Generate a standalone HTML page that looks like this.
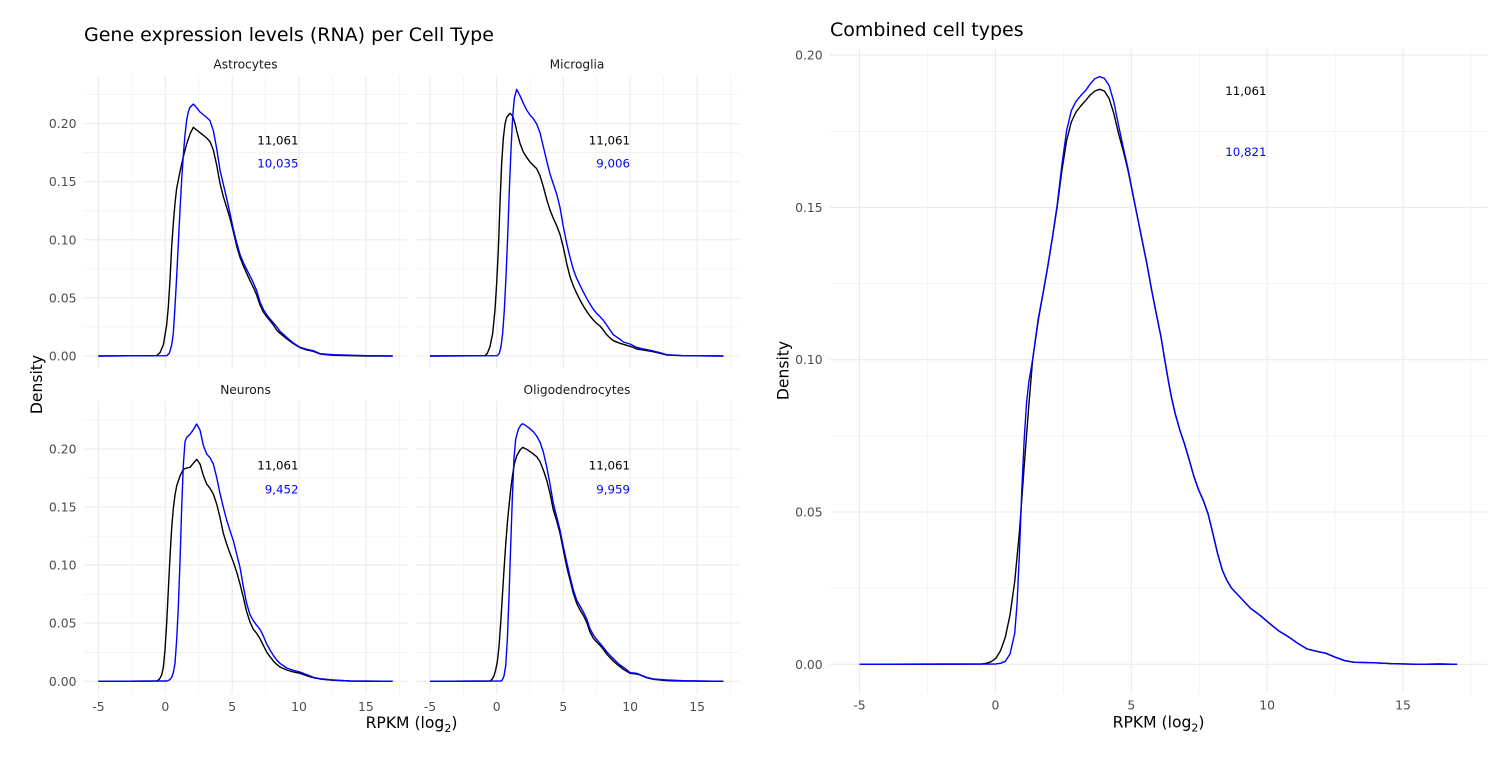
<!DOCTYPE html>
<html><head><meta charset="utf-8">
<style>
html,body{margin:0;padding:0;background:#fff;}
svg{display:block;}
text{font-family:"DejaVu Sans","Liberation Sans",sans-serif;}
.ax{font-size:12.4px;fill:#4d4d4d;}
.st{font-size:12.2px;fill:#1a1a1a;}
.an{font-size:11.8px;}
.gM{stroke:#ebebeb;stroke-width:1.1;}
.gm{stroke:#ebebeb;stroke-width:0.55;}
.cb{fill:none;stroke:#000;stroke-width:1.4;stroke-linejoin:round;}
.cu{fill:none;stroke:#0000ff;stroke-width:1.4;stroke-linejoin:round;}
</style></head>
<body>
<svg width="1500" height="768" viewBox="0 0 1500 768" xmlns="http://www.w3.org/2000/svg">
<rect width="1500" height="768" fill="#fff"/>

<!-- ===== LEFT FACET PLOT ===== -->
<text x="84" y="41" style="font-size:19px" fill="#000">Gene expression levels (RNA) per Cell Type</text>

<g>
<!-- top-left -->
<line class="gm" x1="84" x2="407" y1="327" y2="327"/><line class="gm" x1="84" x2="407" y1="268.9" y2="268.9"/><line class="gm" x1="84" x2="407" y1="210.8" y2="210.8"/><line class="gm" x1="84" x2="407" y1="152.7" y2="152.7"/><line class="gm" x1="84" x2="407" y1="94.6" y2="94.6"/>
<line class="gm" x1="131.9" x2="131.9" y1="76" y2="368"/><line class="gm" x1="198.7" x2="198.7" y1="76" y2="368"/><line class="gm" x1="265.6" x2="265.6" y1="76" y2="368"/><line class="gm" x1="332.4" x2="332.4" y1="76" y2="368"/><line class="gm" x1="399.2" x2="399.2" y1="76" y2="368"/>
<line class="gM" x1="84" x2="407" y1="356" y2="356"/><line class="gM" x1="84" x2="407" y1="297.9" y2="297.9"/><line class="gM" x1="84" x2="407" y1="239.8" y2="239.8"/><line class="gM" x1="84" x2="407" y1="181.7" y2="181.7"/><line class="gM" x1="84" x2="407" y1="123.6" y2="123.6"/>
<line class="gM" x1="98.4" x2="98.4" y1="76" y2="368"/><line class="gM" x1="165.3" x2="165.3" y1="76" y2="368"/><line class="gM" x1="232.2" x2="232.2" y1="76" y2="368"/><line class="gM" x1="299" x2="299" y1="76" y2="368"/><line class="gM" x1="365.9" x2="365.9" y1="76" y2="368"/>
<!-- top-right -->
<line class="gm" x1="415" x2="739" y1="327" y2="327"/><line class="gm" x1="415" x2="739" y1="268.9" y2="268.9"/><line class="gm" x1="415" x2="739" y1="210.8" y2="210.8"/><line class="gm" x1="415" x2="739" y1="152.7" y2="152.7"/><line class="gm" x1="415" x2="739" y1="94.6" y2="94.6"/>
<line class="gm" x1="463.3" x2="463.3" y1="76" y2="368"/><line class="gm" x1="530" x2="530" y1="76" y2="368"/><line class="gm" x1="596.7" x2="596.7" y1="76" y2="368"/><line class="gm" x1="663.5" x2="663.5" y1="76" y2="368"/><line class="gm" x1="730.3" x2="730.3" y1="76" y2="368"/>
<line class="gM" x1="415" x2="739" y1="356" y2="356"/><line class="gM" x1="415" x2="739" y1="297.9" y2="297.9"/><line class="gM" x1="415" x2="739" y1="239.8" y2="239.8"/><line class="gM" x1="415" x2="739" y1="181.7" y2="181.7"/><line class="gM" x1="415" x2="739" y1="123.6" y2="123.6"/>
<line class="gM" x1="430" x2="430" y1="76" y2="368"/><line class="gM" x1="496.7" x2="496.7" y1="76" y2="368"/><line class="gM" x1="563.3" x2="563.3" y1="76" y2="368"/><line class="gM" x1="630.2" x2="630.2" y1="76" y2="368"/><line class="gM" x1="697.1" x2="697.1" y1="76" y2="368"/>
<!-- bottom-left -->
<line class="gm" x1="84" x2="407" y1="652.3" y2="652.3"/><line class="gm" x1="84" x2="407" y1="594.2" y2="594.2"/><line class="gm" x1="84" x2="407" y1="536.1" y2="536.1"/><line class="gm" x1="84" x2="407" y1="478" y2="478"/><line class="gm" x1="84" x2="407" y1="419.9" y2="419.9"/>
<line class="gm" x1="131.9" x2="131.9" y1="401" y2="694"/><line class="gm" x1="198.7" x2="198.7" y1="401" y2="694"/><line class="gm" x1="265.6" x2="265.6" y1="401" y2="694"/><line class="gm" x1="332.4" x2="332.4" y1="401" y2="694"/><line class="gm" x1="399.2" x2="399.2" y1="401" y2="694"/>
<line class="gM" x1="84" x2="407" y1="681.3" y2="681.3"/><line class="gM" x1="84" x2="407" y1="623.2" y2="623.2"/><line class="gM" x1="84" x2="407" y1="565.1" y2="565.1"/><line class="gM" x1="84" x2="407" y1="507" y2="507"/><line class="gM" x1="84" x2="407" y1="448.9" y2="448.9"/>
<line class="gM" x1="98.4" x2="98.4" y1="401" y2="694"/><line class="gM" x1="165.3" x2="165.3" y1="401" y2="694"/><line class="gM" x1="232.2" x2="232.2" y1="401" y2="694"/><line class="gM" x1="299" x2="299" y1="401" y2="694"/><line class="gM" x1="365.9" x2="365.9" y1="401" y2="694"/>
<!-- bottom-right -->
<line class="gm" x1="415" x2="739" y1="652.3" y2="652.3"/><line class="gm" x1="415" x2="739" y1="594.2" y2="594.2"/><line class="gm" x1="415" x2="739" y1="536.1" y2="536.1"/><line class="gm" x1="415" x2="739" y1="478" y2="478"/><line class="gm" x1="415" x2="739" y1="419.9" y2="419.9"/>
<line class="gm" x1="463.3" x2="463.3" y1="401" y2="694"/><line class="gm" x1="530" x2="530" y1="401" y2="694"/><line class="gm" x1="596.7" x2="596.7" y1="401" y2="694"/><line class="gm" x1="663.5" x2="663.5" y1="401" y2="694"/><line class="gm" x1="730.3" x2="730.3" y1="401" y2="694"/>
<line class="gM" x1="415" x2="739" y1="681.3" y2="681.3"/><line class="gM" x1="415" x2="739" y1="623.2" y2="623.2"/><line class="gM" x1="415" x2="739" y1="565.1" y2="565.1"/><line class="gM" x1="415" x2="739" y1="507" y2="507"/><line class="gM" x1="415" x2="739" y1="448.9" y2="448.9"/>
<line class="gM" x1="430" x2="430" y1="401" y2="694"/><line class="gM" x1="496.7" x2="496.7" y1="401" y2="694"/><line class="gM" x1="563.3" x2="563.3" y1="401" y2="694"/><line class="gM" x1="630.2" x2="630.2" y1="401" y2="694"/><line class="gM" x1="697.1" x2="697.1" y1="401" y2="694"/>
</g>

<text class="st" x="245.5" y="68.5" text-anchor="middle">Astrocytes</text>
<text class="st" x="577" y="68.5" text-anchor="middle">Microglia</text>
<text class="st" x="245.5" y="394" text-anchor="middle">Neurons</text>
<text class="st" x="577" y="394" text-anchor="middle">Oligodendrocytes</text>

<g class="ax" text-anchor="end">
<text x="76.5" y="360.5">0.00</text><text x="76.5" y="302.4">0.05</text><text x="76.5" y="244.3">0.10</text><text x="76.5" y="186.2">0.15</text><text x="76.5" y="128.1">0.20</text>
<text x="76.5" y="685.8">0.00</text><text x="76.5" y="627.7">0.05</text><text x="76.5" y="569.6">0.10</text><text x="76.5" y="511.5">0.15</text><text x="76.5" y="453.4">0.20</text>
</g>
<g class="ax" text-anchor="middle">
<text x="98.4" y="711">-5</text><text x="165.3" y="711">0</text><text x="232.2" y="711">5</text><text x="299" y="711">10</text><text x="365.9" y="711">15</text>
<text x="430" y="711">-5</text><text x="496.7" y="711">0</text><text x="563.3" y="711">5</text><text x="630.2" y="711">10</text><text x="697.1" y="711">15</text>
</g>

<text x="411.5" y="728" text-anchor="middle" style="font-size:15.6px" fill="#000">RPKM (log<tspan style="font-size:11px" dy="4">2</tspan><tspan dy="-4">)</tspan></text>
<text transform="translate(42,384.5) rotate(-90)" text-anchor="middle" style="font-size:15.6px" fill="#000">Density</text>

<g transform="scale(0.33333)">
<polyline class="cb" vector-effect="non-scaling-stroke" points="295,1068 470,1067 480,1058 490,1035 500,975 505,920 510,840 515,740 520,670 525,610 530,565 535,540 540,515 550,470 560,432 570,402 580,382 590,390 600,398 610,406 620,414 630,425 640,450 650,495 660,550 670,590 680,622 690,655 700,695 710,738 720,772 730,797 740,820 750,842 760,862 770,885 780,915 790,936 800,950 810,962 820,975 830,990 840,1000 860,1016 880,1031 900,1043 920,1050 940,1054 960,1062 1000,1066 1100,1068 1178,1068"/>
<polyline class="cu" vector-effect="non-scaling-stroke" points="295,1068 500,1067 508,1060 515,1035 520,1000 525,920 530,830 535,730 540,630 545,540 550,465 555,405 560,360 565,335 570,322 580,312 590,323 600,336 615,348 630,362 640,392 650,445 660,510 670,553 680,595 690,640 700,688 710,728 720,763 730,788 740,808 750,828 760,848 770,872 780,906 790,928 800,944 810,957 830,980 840,994 860,1012 880,1029 900,1042 920,1048 940,1052 960,1061 1000,1064 1100,1067 1178,1068"/>
</g>
<g transform="translate(400,0) scale(0.33333)">
<polyline class="cb" vector-effect="non-scaling-stroke" points="90,1068 255,1067 262,1060 270,1040 278,1000 285,930 290,850 295,750 300,610 305,490 310,415 315,372 320,352 330,340 338,348 345,370 350,392 360,430 370,456 380,472 390,486 400,496 410,506 420,527 430,560 440,598 450,630 460,655 470,677 480,703 490,742 500,790 510,830 520,858 530,880 540,900 550,918 560,934 570,948 580,960 590,970 600,978 610,990 620,1004 630,1014 640,1022 660,1030 680,1036 700,1042 710,1047 730,1050 760,1055 780,1060 800,1065 850,1067 970,1068"/>
<polyline class="cu" vector-effect="non-scaling-stroke" points="90,1068 292,1067 298,1060 303,1040 308,1000 313,930 318,830 323,710 328,570 333,450 338,350 343,295 350,268 360,287 370,310 380,330 390,345 400,356 410,372 420,398 430,440 440,482 450,522 460,552 470,582 480,622 490,680 500,730 510,772 520,808 530,835 540,856 550,876 560,895 570,912 580,928 590,940 600,950 610,961 620,975 630,990 640,1004 660,1018 670,1026 690,1032 710,1042 730,1047 760,1053 780,1058 800,1064 850,1067 970,1068"/>
</g>
<g transform="translate(0,380) scale(0.33333)">
<polyline class="cb" vector-effect="non-scaling-stroke" points="295,904 470,903 478,898 485,885 490,862 495,810 500,730 505,630 510,530 515,445 520,385 525,345 530,318 540,288 550,268 560,264 570,262 580,250 590,238 600,252 610,286 620,312 630,325 640,342 650,372 660,412 670,460 680,492 690,520 700,546 710,576 720,612 730,652 740,695 750,726 760,748 770,760 780,776 790,796 800,816 810,830 820,843 830,853 840,861 860,870 880,876 900,880 920,887 940,893 960,897 1000,901 1050,903 1178,904"/>
<polyline class="cu" vector-effect="non-scaling-stroke" points="295,904 500,903 508,900 515,892 520,878 525,850 530,780 535,680 540,545 545,385 550,255 555,185 560,172 570,163 580,149 590,132 600,150 610,196 620,222 630,233 640,252 650,292 660,340 670,382 680,420 690,452 700,482 710,522 720,562 730,620 740,670 750,704 760,722 770,736 780,748 790,768 800,792 810,810 820,826 830,840 840,850 860,864 880,871 900,876 920,884 940,892 960,896 1000,900 1050,903 1178,904"/>
</g>
<g transform="translate(400,380) scale(0.33333)">
<polyline class="cb" vector-effect="non-scaling-stroke" points="90,904 270,903 276,898 282,888 287,870 292,845 297,800 302,730 307,650 312,570 317,495 322,430 327,378 332,330 337,290 343,252 350,228 360,210 368,202 380,208 395,218 410,230 420,245 430,270 440,300 450,340 460,390 470,422 480,460 490,510 500,560 510,600 520,640 530,670 540,690 550,706 560,727 570,756 580,775 590,786 600,796 610,808 620,822 630,833 640,843 650,852 660,860 670,868 680,874 690,880 710,882 720,885 740,893 760,898 800,902 850,903 970,904"/>
<polyline class="cu" vector-effect="non-scaling-stroke" points="90,904 302,903 307,900 312,888 317,858 322,780 327,650 332,500 337,355 342,235 347,178 355,148 362,136 368,131 376,136 386,143 400,155 410,168 420,186 430,216 440,260 450,312 460,370 470,410 480,450 490,500 500,546 510,590 520,630 530,660 540,678 550,696 560,716 570,746 580,765 590,778 600,790 610,802 620,815 630,826 640,836 650,846 660,855 670,862 680,869 690,878 710,880 720,884 740,892 760,897 800,900 850,902 970,904"/>
</g>

<g class="an" text-anchor="end">
<text x="298.5" y="144.3" fill="#000">11,061</text><text x="298.5" y="167.6" fill="#0000ff">10,035</text>
<text x="630" y="144.3" fill="#000">11,061</text><text x="630" y="167.6" fill="#0000ff">9,006</text>
<text x="298.5" y="469.6" fill="#000">11,061</text><text x="298.5" y="493.3" fill="#0000ff">9,452</text>
<text x="630" y="469.6" fill="#000">11,061</text><text x="630" y="493.3" fill="#0000ff">9,959</text>
</g>

<!-- ===== RIGHT COMBINED PLOT ===== -->
<text x="830" y="36" style="font-size:19px" fill="#000">Combined cell types</text>
<g>
<line class="gm" x1="829.8" x2="1487.8" y1="588.2" y2="588.2"/><line class="gm" x1="829.8" x2="1487.8" y1="435.9" y2="435.9"/><line class="gm" x1="829.8" x2="1487.8" y1="283.6" y2="283.6"/><line class="gm" x1="829.8" x2="1487.8" y1="131.3" y2="131.3"/>
<line class="gm" x1="927.5" x2="927.5" y1="47.7" y2="693.3"/><line class="gm" x1="1063.4" x2="1063.4" y1="47.7" y2="693.3"/><line class="gm" x1="1199.2" x2="1199.2" y1="47.7" y2="693.3"/><line class="gm" x1="1335.1" x2="1335.1" y1="47.7" y2="693.3"/><line class="gm" x1="1470.9" x2="1470.9" y1="47.7" y2="693.3"/>
<line class="gM" x1="829.8" x2="1487.8" y1="664.3" y2="664.3"/><line class="gM" x1="829.8" x2="1487.8" y1="512" y2="512"/><line class="gM" x1="829.8" x2="1487.8" y1="359.7" y2="359.7"/><line class="gM" x1="829.8" x2="1487.8" y1="207.4" y2="207.4"/><line class="gM" x1="829.8" x2="1487.8" y1="55.1" y2="55.1"/>
<line class="gM" x1="859.5" x2="859.5" y1="47.7" y2="693.3"/><line class="gM" x1="995.4" x2="995.4" y1="47.7" y2="693.3"/><line class="gM" x1="1131.3" x2="1131.3" y1="47.7" y2="693.3"/><line class="gM" x1="1267.1" x2="1267.1" y1="47.7" y2="693.3"/><line class="gM" x1="1403" x2="1403" y1="47.7" y2="693.3"/>
</g>
<g class="ax" text-anchor="end">
<text x="822.7" y="668.8">0.00</text><text x="822.7" y="516.5">0.05</text><text x="822.7" y="364.2">0.10</text><text x="822.7" y="211.9">0.15</text><text x="822.7" y="59.6">0.20</text>
</g>
<g class="ax" text-anchor="middle">
<text x="859.5" y="709.5">-5</text><text x="995.4" y="709.5">0</text><text x="1131.3" y="709.5">5</text><text x="1267.1" y="709.5">10</text><text x="1403" y="709.5">15</text>
</g>
<text x="1158.6" y="727.5" text-anchor="middle" style="font-size:15.6px" fill="#000">RPKM (log<tspan style="font-size:11px" dy="4">2</tspan><tspan dy="-4">)</tspan></text>
<text transform="translate(788.5,370.5) rotate(-90)" text-anchor="middle" style="font-size:15.6px" fill="#000">Density</text>

<g transform="translate(760,0) scale(0.471698,0.33333)">
<polyline class="cb" vector-effect="non-scaling-stroke" points="211,1993 470,1992 480,1990 490,1985 500,1975 510,1952 520,1912 530,1845 540,1745 550,1595 560,1400 570,1215 578,1079 590,960 600,880 610,800 620,712 630,620 640,512 650,422 660,366 670,336 680,318 690,302 700,285 710,273 720,268 730,273 740,295 750,340 760,400 770,452 780,510 790,580 800,650 810,720 820,790 830,868 840,940 850,1010 858,1079 866,1145 872,1190 880,1240 890,1290 900,1332 910,1380 920,1430 930,1470 940,1502 950,1542 960,1600 970,1660 980,1710 990,1742 1000,1765 1020,1795 1040,1825 1060,1846 1080,1870 1100,1893 1120,1910 1140,1930 1160,1947 1180,1954 1200,1960 1220,1972 1240,1982 1260,1987 1300,1988 1340,1991 1400,1993 1440,1992 1478,1993"/>
<polyline class="cu" vector-effect="non-scaling-stroke" points="211,1993 500,1992 510,1990 520,1984 530,1962 540,1900 545,1810 550,1660 555,1470 560,1320 565,1210 570,1145 578,1079 590,955 600,880 610,800 620,712 630,615 640,495 650,392 660,332 670,304 680,287 690,272 700,252 710,236 720,230 730,235 740,256 750,305 760,375 770,442 780,505 790,578 800,650 810,720 820,790 830,868 840,940 850,1010 858,1079 866,1145 872,1190 880,1240 890,1290 900,1332 910,1380 920,1430 930,1470 940,1502 950,1542 960,1600 970,1660 980,1710 990,1742 1000,1765 1020,1795 1040,1825 1060,1846 1080,1870 1100,1893 1120,1910 1140,1930 1160,1947 1180,1954 1200,1960 1220,1972 1240,1982 1260,1987 1300,1988 1340,1991 1400,1993 1440,1992 1478,1993"/>
</g>
<g class="an" text-anchor="end">
<text x="1266.5" y="95" fill="#000">11,061</text>
<text x="1266.5" y="156" fill="#0000ff">10,821</text>
</g>
</svg>
</body></html>
